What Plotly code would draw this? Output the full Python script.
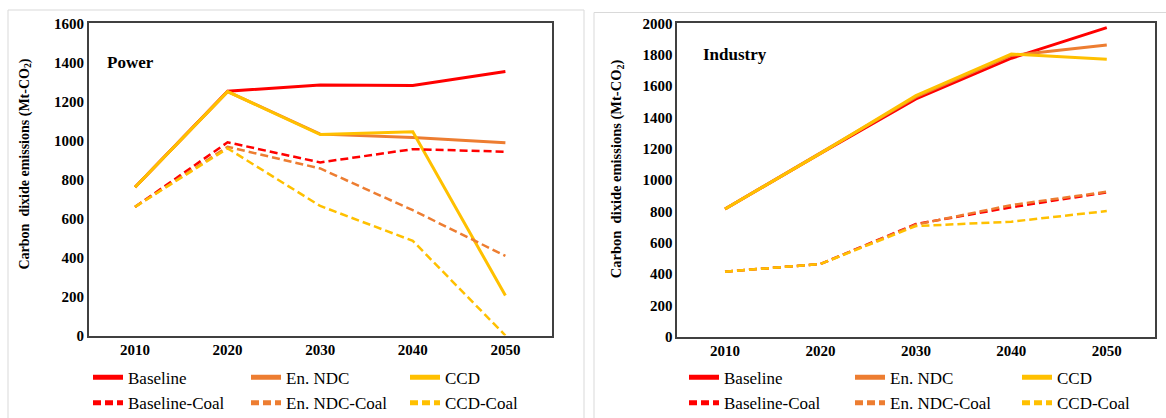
import plotly.graph_objects as go

W, H = 1166, 418

years = ["2010", "2020", "2030", "2040", "2050"]

# Power sector (Mt-CO2)
power_baseline = [760, 1252, 1284, 1281, 1353]
power_ndc = [760, 1250, 1032, 1015, 988]
power_ccd = [760, 1250, 1030, 1044, 205]
power_baseline_coal = [659, 990, 887, 955, 942]
power_ndc_coal = [659, 967, 856, 642, 408]
power_ccd_coal = [659, 959, 664, 485, 0]

# Industry sector (Mt-CO2)
ind_baseline = [815, 1170, 1517, 1777, 1972]
ind_ndc = [815, 1170, 1530, 1795, 1862]
ind_ccd = [815, 1170, 1538, 1804, 1770]
ind_baseline_coal = [415, 464, 719, 826, 921]
ind_ndc_coal = [415, 464, 715, 840, 925]
ind_ccd_coal = [415, 464, 706, 734, 802]

names = ["Baseline", "En. NDC", "CCD", "Baseline-Coal", "En. NDC-Coal", "CCD-Coal"]
colors = ["#FF0000", "#ED7D31", "#FFC000", "#FF0000", "#ED7D31", "#FFC000"]
power_series = [power_baseline, power_ndc, power_ccd,
                power_baseline_coal, power_ndc_coal, power_ccd_coal]
ind_series = [ind_baseline, ind_ndc, ind_ccd,
              ind_baseline_coal, ind_ndc_coal, ind_ccd_coal]

FONT = "Liberation Serif, Times New Roman, DejaVu Serif, serif"

def px_x(v):
    return v / W

def px_y(v):
    return 1 - v / H

# legend entry origins (px) per panel: columns and rows
left_cols = [88, 246, 405]
right_cols = [684, 850, 1017]
rows = [377.7, 403.3]

fig = go.Figure()
legend_layout = {}
legend_common = dict(orientation="h", xanchor="left", yanchor="middle",
                     font=dict(family=FONT, size=17, color="#000000"),
                     bgcolor="rgba(0,0,0,0)", borderwidth=0,
                     itemsizing="constant")

k = 0
for panel, (series, cols, xa, ya) in enumerate([
        (power_series, left_cols, "x", "y"),
        (ind_series, right_cols, "x2", "y2")]):
    for i, (nm, col, vals) in enumerate(zip(names, colors, series)):
        dashed = i >= 3
        k += 1
        lid = "legend" if k == 1 else f"legend{k}"
        fig.add_trace(go.Scatter(
            x=years, y=vals, name=nm, mode="lines", showlegend=True,
            line=dict(color=col, width=2.5 if dashed else 3,
                      dash="8px,4px" if dashed else "solid"),
            xaxis=xa, yaxis=ya, legend=lid,
        ))
        legend_layout[lid] = dict(x=px_x(cols[i % 3]), y=px_y(rows[i // 3]),
                                  **legend_common)

axis_line = dict(showline=True, linecolor="#404040", linewidth=1.5, mirror=True,
                 showgrid=False, zeroline=False, ticks="", automargin=False)
tickfont = dict(family=FONT, size=15, color="#000000", weight="bold")

fig.update_layout(
    width=W, height=H,
    showlegend=True,
    margin=dict(l=0, r=0, t=0, b=0, autoexpand=False),
    paper_bgcolor="white", plot_bgcolor="white",
    font=dict(family=FONT, color="#000000"),
    xaxis=dict(domain=[px_x(88.7), px_x(551.7)], type="category",
               range=[-0.5, 4.5], tickfont=tickfont, anchor="y", **axis_line),
    yaxis=dict(domain=[px_y(335.5), px_y(23.3)], range=[0, 1600], dtick=200,
               tickfont=tickfont, anchor="x", **axis_line),
    xaxis2=dict(domain=[px_x(677.3), px_x(1154.5)], type="category",
                range=[-0.5, 4.5], tickfont=tickfont, anchor="y2", **axis_line),
    yaxis2=dict(domain=[px_y(336.7), px_y(23.3)], range=[0, 2000], dtick=200,
                tickfont=tickfont, anchor="x2", **axis_line),
    **legend_layout,
)

# panel frames
fig.add_shape(type="rect", xref="paper", yref="paper",
              x0=px_x(8), x1=px_x(584), y0=-0.05, y1=px_y(10),
              line=dict(color="#D9D9D9", width=1), layer="below")
fig.add_shape(type="rect", xref="paper", yref="paper",
              x0=px_x(594), x1=1.05, y0=-0.05, y1=px_y(12.5),
              line=dict(color="#D9D9D9", width=1), layer="below")

bold = dict(family=FONT, color="#000000", weight="bold")

# panel labels
fig.add_annotation(text="Power", xref="paper", yref="paper",
                   x=px_x(105), y=px_y(62), xanchor="left", yanchor="middle",
                   showarrow=False, font=dict(size=17, **bold))
fig.add_annotation(text="Industry", xref="paper", yref="paper",
                   x=px_x(700.7), y=px_y(54), xanchor="left", yanchor="middle",
                   showarrow=False, font=dict(size=17, **bold))

# y-axis titles
fig.add_annotation(text="Carbon  dixide emissions (Mt-CO<sub>2</sub>)",
                   xref="paper", yref="paper", x=px_x(25), y=px_y(164.5),
                   xanchor="center", yanchor="middle", textangle=-90,
                   showarrow=False, font=dict(size=14, **bold))
fig.add_annotation(text="Carbon  dixide emissions (Mt-CO<sub>2</sub>)",
                   xref="paper", yref="paper", x=px_x(616.7), y=px_y(168.5),
                   xanchor="center", yanchor="middle", textangle=-90,
                   showarrow=False, font=dict(size=14.5, **bold))

fig.write_html(
    "out.html",
    config={"displayModeBar": False},
    post_script="document.body.style.margin='0';document.body.style.overflow='hidden';",
)
